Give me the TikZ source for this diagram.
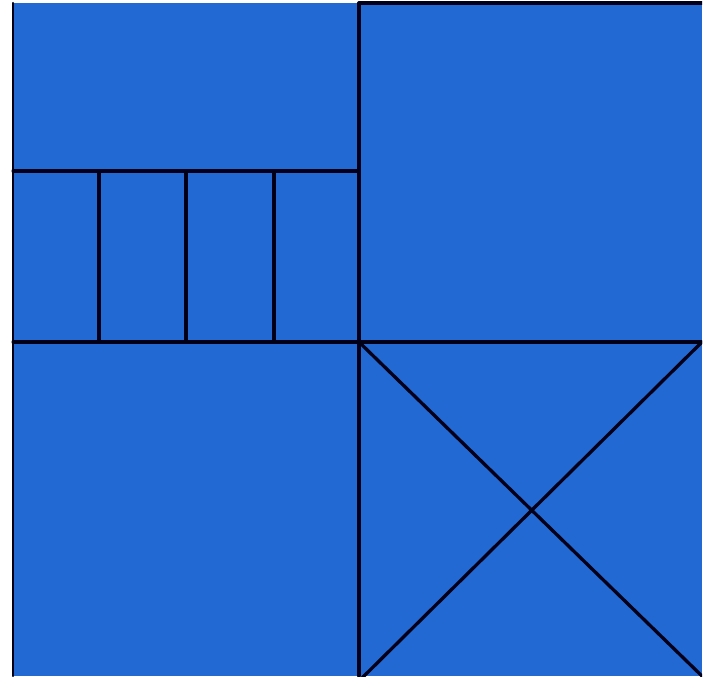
\documentclass[tikz,border=0pt]{standalone}
\begin{document}
\begin{tikzpicture}[x=1pt,y=-1pt,
  ln/.style={draw=black!90!blue,line width=3.3pt,line cap=round}]
\definecolor{panel}{RGB}{35,105,212}
\useasboundingbox (0,0) rectangle (711,677);
\fill[white] (0,0) rectangle (711,677);
\fill[panel] (13,3) rectangle (702,676);
\begin{scope}
\clip (11.5,1.5) rectangle (702,676);
% left edge and top-right edge
\draw[ln,line width=2.4pt] (13,3) -- (13,676);
\draw[ln] (359,3) -- (702,3);
% central cross
\draw[ln] (359,3) -- (359,676);
\draw[ln] (13,342) -- (702,342);
% upper-left ladder
\draw[ln] (13,171) -- (359,171);
\draw[ln] (99,171) -- (99,342);
\draw[ln] (186,171) -- (186,342);
\draw[ln] (274,171) -- (274,342);
% X in lower-right
\draw[ln] (359,342) -- (704,678);
\draw[ln] (702,342) -- (362,678);
\end{scope}
\end{tikzpicture}
\end{document}
